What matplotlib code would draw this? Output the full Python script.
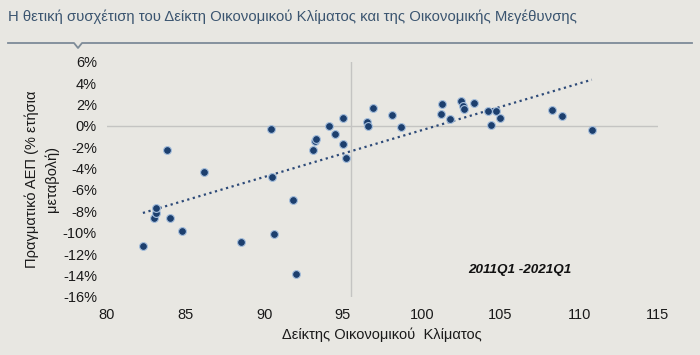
import numpy as np
import matplotlib
matplotlib.use("Agg")
from matplotlib import pyplot as plt
from matplotlib.lines import Line2D
from matplotlib.ticker import FuncFormatter

# Δείκτης Οικονομικού Κλίματος (x) και ετήσια μεταβολή ΑΕΠ % (y), 2011Q1-2021Q1
esi = [82.3, 83.0, 83.1, 83.1, 83.8, 84.0, 84.8, 86.2, 88.5, 90.4,
       90.5, 90.6, 91.8, 92.0, 93.1, 93.2, 93.3, 94.1, 94.5, 95.0,
       95.0, 95.2, 96.5, 96.6, 96.9, 98.1, 98.7, 101.2, 101.3, 101.8,
       102.5, 102.6, 102.7, 103.3, 104.2, 104.4, 104.7, 105.0, 108.3,
       108.9, 110.8]
gdp = [-11.2, -8.6, -8.2, -7.7, -2.3, -8.6, -9.8, -4.3, -10.9, -0.25,
       -4.8, -10.1, -6.9, -13.9, -2.3, -1.4, -1.2, -0.05, -0.8, 0.7,
       -1.7, -3.0, 0.4, -0.05, 1.7, 1.0, -0.1, 1.1, 2.0, 0.6,
       2.3, 1.9, 1.6, 2.1, 1.4, 0.05, 1.4, 0.7, 1.5,
       0.9, -0.4]
x_ticks = [80, 85, 90, 95, 100, 105, 110, 115]
y_ticks = list(range(-16, 7, 2))

bg = "#e8e7e2"
dot = "#1c3f6e"

plt.rcParams['font.family'] = ['Liberation Sans', 'DejaVu Sans']

fig = plt.figure(figsize=(7, 3.55), dpi=100, facecolor=bg)
ax = fig.add_axes([0.1524, 0.164, 0.7876, 0.662])
ax.set_facecolor(bg)

ax.axhline(0, color="#c4c4c2", lw=1, zorder=1)
ax.axvline(95.5, color="#c4c4c2", lw=1, zorder=1)

# γραμμή τάσης
xs = np.array(esi)
a, b = np.polyfit(xs, np.array(gdp), 1)
xl = np.array([xs.min(), xs.max()])
ax.plot(xl, a * xl + b, color="#2d4a78", lw=1.6, linestyle=(0, (1, 1.6)), zorder=2)

ax.scatter(esi, gdp, s=32, color=dot, edgecolors="#a5bedc", linewidths=0.8, zorder=3)

ax.set_xlim(80, 115)
ax.set_ylim(-16, 6)
ax.set_xticks(x_ticks)
ax.set_yticks(y_ticks)
ax.yaxis.set_major_formatter(FuncFormatter(lambda v, p: "%d%%" % v))
for s in ax.spines.values():
    s.set_visible(False)
ax.tick_params(length=0, labelsize=10.5, colors="#1a1a1a")
ax.tick_params(axis='x', pad=8)
ax.tick_params(axis='y', pad=7)

ax.set_xlabel("Δείκτης Οικονομικού  Κλίματος", fontsize=10.5, color="#1a1a1a", labelpad=4)
ax.set_ylabel("Πραγματικό ΑΕΠ (% ετήσια\nμεταβολή)", fontsize=10.5, color="#1a1a1a",
              labelpad=3, linespacing=1.45)

ax.text(106.2, -13.5, "2011Q1 -2021Q1", fontsize=9.7, fontweight="bold", style="italic",
        ha="center", va="center", color="#111111")

fig.text(8 / 700, 1 - 17 / 355, "Η θετική συσχέτιση του Δείκτη Οικονομικού Κλίματος και της Οικονομικής Μεγέθυνσης",
         fontsize=10.7, color="#3b5570", ha="left", va="center")
ly = 1 - 43 / 355
fig.add_artist(Line2D([8 / 700, 74 / 700, 78 / 700, 82 / 700, 692 / 700],
                      [ly, ly, ly - 5 / 355, ly, ly],
                      color="#7d8b98", lw=1.3, transform=fig.transFigure))

fig.savefig("out.png", dpi=100, facecolor=bg)
